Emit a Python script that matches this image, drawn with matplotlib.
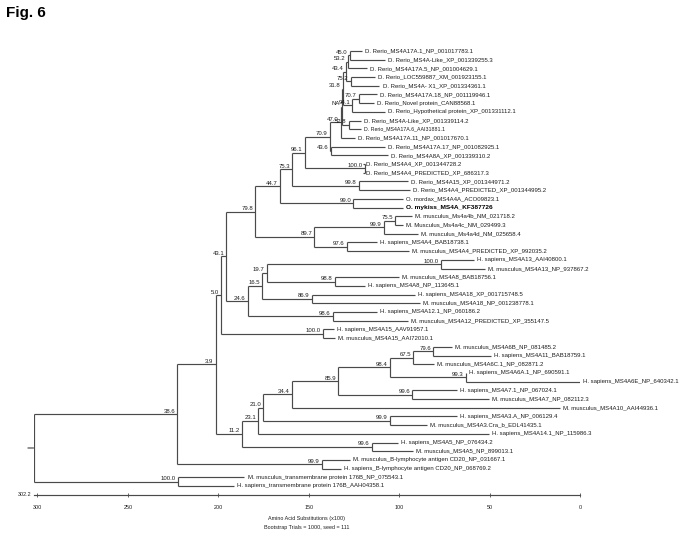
import matplotlib
matplotlib.use("Agg")
import matplotlib.pyplot as plt

plt.rcParams['font.family'] = ['Liberation Sans', 'DejaVu Sans']

# ---------------- data ----------------
leaf_names = [
    "D. Rerio_MS4A17A.1_NP_001017783.1",
    "D. Rerio_MS4A-Like_XP_001339255.3",
    "D. Rerio_MS4A17A.5_NP_001004629.1",
    "D. Rerio_LOC559887_XM_001923155.1",
    "D. Rerio_MS4A- X1_XP_001334361.1",
    "D. Rerio_MS4A17A.18_NP_001119946.1",
    "D. Rerio_Novel protein_CAN88568.1",
    "D. Rerio_Hypothetical protein_XP_001331112.1",
    "D. Rerio_MS4A-Like_XP_001339114.2",
    "D. Rerio_MS4A17A.6_AAI31881.1",
    "D. Rerio_MS4A17A.11_NP_001017670.1",
    "D. Rerio_MS4A17A.17_NP_001082925.1",
    "D. Rerio_MS4A8A_XP_001339310.2",
    "D. Rerio_MS4A4_XP_001344728.2",
    "D. Rerio_MS4A4_PREDICTED_XP_686317.3",
    "D. Rerio_MS4A15_XP_001344971.2",
    "D. Rerio_MS4A4_PREDICTED_XP_001344995.2",
    "O. mordax_MS4A4A_ACO09823.1",
    "O. mykiss_MS4A_KF387726",
    "M. musculus_Ms4a4b_NM_021718.2",
    "M. Musculus_Ms4a4c_NM_029499.3",
    "M. musculus_Ms4a4d_NM_025658.4",
    "H. sapiens_MS4A4_BAB18738.1",
    "M. musculus_MS4A4_PREDICTED_XP_992035.2",
    "H. sapiens_MS4A13_AAI40800.1",
    "M. musculus_MS4A13_NP_937867.2",
    "M. musculus_MS4A8_BAB18756.1",
    "H. sapiens_MS4A8_NP_113645.1",
    "H. sapiens_MS4A18_XP_001715748.5",
    "M. musculus_MS4A18_NP_001238778.1",
    "H. sapiens_MS4A12.1_NP_060186.2",
    "M. musculus_MS4A12_PREDICTED_XP_355147.5",
    "H. sapiens_MS4A15_AAV91957.1",
    "M. musculus_MS4A15_AAI72010.1",
    "M. musculus_MS4A6B_NP_081485.2",
    "H. sapiens_MS4A11_BAB18759.1",
    "M. musculus_MS4A6C.1_NP_082871.2",
    "H. sapiens_MS4A6A.1_NP_690591.1",
    "H. sapiens_MS4A6E_NP_640342.1",
    "H. sapiens_MS4A7.1_NP_067024.1",
    "M. musculus_MS4A7_NP_082112.3",
    "M. musculus_MS4A10_AAI44936.1",
    "H. sapiens_MS4A3.A_NP_006129.4",
    "M. musculus_MS4A3.Cra_b_EDL41435.1",
    "H. sapiens_MS4A14.1_NP_115986.3",
    "H. sapiens_MS4A5_NP_076434.2",
    "M. musculus_MS4A5_NP_899013.1",
    "M. musculus_B-lymphocyte antigen CD20_NP_031667.1",
    "H. sapiens_B-lymphocyte antigen CD20_NP_068769.2",
    "M. musculus_transmembrane protein 176B_NP_075543.1",
    "H. sapiens_transmembrane protein 176B_AAH04358.1",
]

# position of each leaf tip on the substitution scale (x100)
leaf_depth = [
    120.8, 107.9, 117.7, 113.4, 111.0, 112.3, 113.8, 107.9, 121.3, 121.3,
    124.3, 107.9, 106.2, 120.1, 120.1, 95.2, 94.1, 98.0, 98.0, 93.1,
    98.1, 89.8, 112.3, 94.5, 58.9, 52.7, 100.3, 118.8, 91.2, 88.4,
    112.3, 95.4, 135.9, 135.4, 70.9, 49.3, 80.8, 63.2, 0.0, 68.1,
    50.6, 11.0, 68.1, 84.7, 50.6, 100.9, 92.6, 127.4, 132.2, 185.6,
    191.2,
]
bold_leaves = ["O. mykiss_MS4A_KF387726"]
small_leaves = ["D. Rerio_MS4A17A.6_AAI31881.1"]

# internal nodes: id, bootstrap label, position on scale, children
node_ids = ["a", "b", "c", "d", "e", "f", "g", "h", "i", "j", "k", "l", "m",
            "n", "o", "p", "q", "r", "s", "t", "u", "v", "w", "x", "y", "z",
            "aa", "ab", "ac", "ad", "ae", "af", "ag", "ah", "ai", "aj", "ak",
            "al", "am", "an", "ao", "ap", "aq", "ar", "as", "at", "au", "av",
            "aw", "root"]
node_boot = ["45.0", "53.2", "75.2", "43.4", "70.7", "94.1", "31.8", "52.8",
             "NA", "47.0", "43.6", "70.9", "100.0", "96.1", "99.8", "75.3",
             "99.0", "44.7", "75.5", "99.9", "97.6", "89.7", "79.8", "100.0",
             "98.8", "19.7", "86.9", "16.5", "98.6", "24.6", "43.1", "100.0",
             "5.0", "79.6", "67.5", "99.3", "98.4", "99.6", "85.9", "34.4",
             "99.9", "21.0", "23.1", "99.6", "11.2", "3.9", "99.9", "38.6",
             "100.0", ""]
node_depth = [127.5, 128.3, 127.0, 129.7, 122.3, 125.9, 131.1, 128.1,
              131.7, 132.5, 137.7, 138.6, 118.9, 152.1, 122.3, 159.1,
              125.4, 165.9, 102.4, 108.5, 128.9, 146.9, 179.7, 77.1,
              135.5, 173.3, 148.4, 176.0, 136.8, 183.8, 195.6, 142.0,
              198.3, 81.2, 92.3, 63.3, 105.1, 92.8, 133.7, 159.4,
              105.1, 175.1, 177.9, 115.2, 186.7, 201.4, 142.9, 222.7,
              222.5, 302.2]
node_children = [[0, 1], ["a", 2], [3, 4], ["b", "c"], [5, 6], ["e", 7],
                 ["d", "f"], [8, 9], ["g", "h"], ["i", 10], [11, 12],
                 ["j", "k"], [13, 14], ["l", "m"], [15, 16], ["n", "o"],
                 [17, 18], ["p", "q"], [19, 20], ["s", 21], [22, 23],
                 ["t", "u"], ["r", "v"], [24, 25], [26, 27], ["x", "y"],
                 [28, 29], ["z", "aa"], [30, 31], ["ab", "ac"], ["w", "ad"],
                 [32, 33], ["ae", "af"], [34, 35], ["ah", 36], [37, 38],
                 ["ai", "aj"], [39, 40], ["ak", "al"], ["am", 41], [42, 43],
                 ["an", "ao"], ["ap", 44], [45, 46], ["aq", "ar"],
                 ["ag", "as"], [47, 48], ["at", "au"], [49, 50],
                 ["av", "aw"]]

scale_ticks = [300, 250, 200, 150, 100, 50, 0]
root_depth = 302.2
x_label = "Amino Acid Substitutions (x100)"
footnote = "Bootstrap Trials = 1000, seed = 111"
title = "Fig. 6"

# ---------------- drawing ----------------
W, H = 683, 535
fig = plt.figure(figsize=(W / 100, H / 100), dpi=100)
n_leaves = len(leaf_names)
left_px, right_px = 33.5, 580.3
top_px, bot_px = 51 - 4.35, 486 + 4.35
ax = fig.add_axes([left_px / W, 1 - bot_px / H,
                   (right_px - left_px) / W, (bot_px - top_px) / H])
ax.set_xlim(root_depth, 0)
ax.set_ylim(n_leaves - 0.5, -0.5)

line_kw = dict(color="#4a4a4a", lw=0.85, solid_capstyle="butt")
txt_col = "#1e1e1e"
fs_leaf = 4.35
fs_boot = 4.35

nodes = {nid: (b, d, ch) for nid, b, d, ch in
         zip(node_ids, node_boot, node_depth, node_children)}
ypos = {}


def node_y(key):
    if isinstance(key, int):
        return key
    if key in ypos:
        return ypos[key]
    ys = [node_y(c) for c in nodes[key][2]]
    ypos[key] = (min(ys) + max(ys)) / 2
    return ypos[key]


def depth(key):
    return leaf_depth[key] if isinstance(key, int) else nodes[key][1]


for nid in node_ids:
    boot, d, ch = nodes[nid]
    ys = [node_y(c) for c in ch]
    ax.plot([d, d], [min(ys), max(ys)], **line_kw)
    for c, yc in zip(ch, ys):
        ax.plot([d, depth(c)], [yc, yc], **line_kw)
        if not isinstance(c, int) and nodes[c][0]:
            ax.annotate(nodes[c][0], xy=(depth(c), yc), xytext=(-1.6, 0.4),
                        textcoords="offset points", ha="right", va="bottom",
                        fontsize=fs_boot, color=txt_col)

# root tick
ry = node_y("root")
ax.annotate("", xy=(root_depth, ry), xytext=(-4, 0),
            textcoords="offset points",
            arrowprops=dict(arrowstyle="-", color="#4a4a4a", lw=0.85,
                            shrinkA=0, shrinkB=0))

for i, name in enumerate(leaf_names):
    kw = dict(fontsize=fs_leaf, color=txt_col)
    if name in bold_leaves:
        kw.update(fontweight="bold", fontsize=fs_leaf + 0.3, color="black")
    if name in small_leaves:
        kw.update(fontsize=fs_leaf - 0.6)
    ax.annotate(name, xy=(leaf_depth[i], i), xytext=(2.2, 0),
                textcoords="offset points", ha="left", va="center", **kw)

# scale axis
for s in ["top", "left", "right"]:
    ax.spines[s].set_visible(False)
ax.spines["bottom"].set_position(("outward", 3.0))
ax.spines["bottom"].set_color("#4a4a4a")
ax.spines["bottom"].set_linewidth(0.85)
ax.set_yticks([])
ax.set_xticks(scale_ticks)
ax.set_xticklabels([str(t) for t in scale_ticks])
ax.tick_params(axis="x", direction="inout", length=3, width=0.6,
               colors="#4a4a4a", labelsize=3.9, labelcolor=txt_col, pad=6)
ax.annotate(f"{root_depth}", xy=(root_depth, 0), xycoords=("data", "axes fraction"),
            xytext=(-1.5, -3.0), textcoords="offset points", ha="right",
            va="center", fontsize=3.9, color=txt_col)
ax.set_xlabel(x_label, fontsize=3.9, color=txt_col, labelpad=4.5)
ax.annotate(footnote, xy=(0.5, 0), xycoords="axes fraction",
            xytext=(0, -27.0), textcoords="offset points", ha="center",
            va="center", fontsize=3.9, color=txt_col)

fig.text(6 / W, 1 - 6 / H, title, fontsize=11, fontweight="bold",
         ha="left", va="top", color="black")

fig.savefig("out.png", dpi=100, facecolor="white")
